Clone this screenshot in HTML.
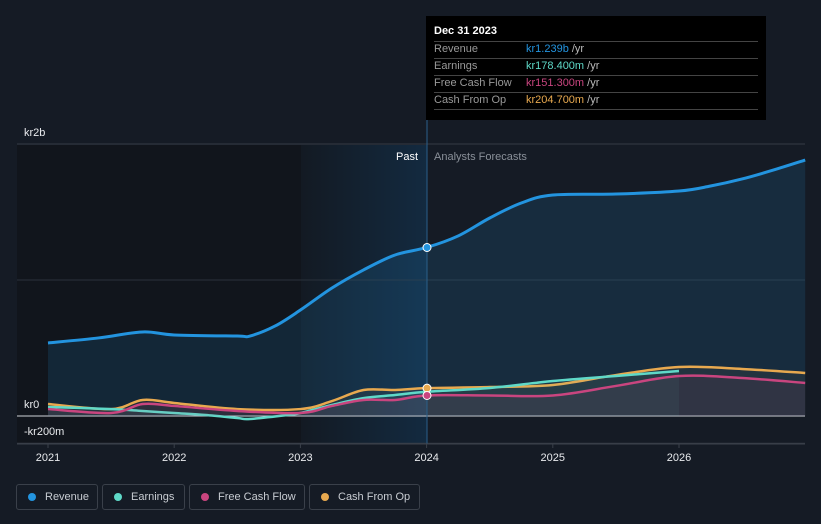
<!DOCTYPE html>
<html><head><meta charset="utf-8"><style>
body{margin:0;background:#151b25;font-family:"Liberation Sans",sans-serif;}
svg{display:block}
.leg{position:absolute;top:484px;height:26px;border:1px solid #3a404a;border-radius:3px;box-sizing:border-box;color:#c8ccd2;font-size:11px;line-height:24px;padding-left:28px;white-space:nowrap}
.leg i{position:absolute;left:11px;top:8px;width:8px;height:8px;border-radius:50%}
</style></head><body>
<div style="position:relative;width:821px;height:524px;overflow:hidden">
<svg id="c" width="821" height="524"></svg>
<div class="leg" style="left:16px;width:82px"><i style="background:#2394df"></i>Revenue</div>
<div class="leg" style="left:102px;width:83px"><i style="background:#5fd9c8"></i>Earnings</div>
<div class="leg" style="left:189px;width:116px"><i style="background:#c9457f"></i>Free Cash Flow</div>
<div class="leg" style="left:309px;width:111px"><i style="background:#e8a94f"></i>Cash From Op</div>
<div style="position:absolute;left:426px;top:16px;width:340px;height:104px;background:#000;color:#fff;font-size:11px">
<div style="position:absolute;left:8px;top:9px;font-weight:bold">Dec 31 2023</div>
<div style="position:absolute;left:8px;right:8px;top:25px;border-top:1px solid #444"></div>
<div style="position:absolute;left:8px;right:8px;top:42px;border-top:1px solid #444"></div>
<div style="position:absolute;left:8px;right:8px;top:59px;border-top:1px solid #444"></div>
<div style="position:absolute;left:8px;right:8px;top:76px;border-top:1px solid #444"></div>
<div style="position:absolute;left:8px;right:8px;top:93px;border-top:1px solid #444"></div>
<div style="position:absolute;left:8px;top:27px;color:#999">Revenue</div>
<div style="position:absolute;left:100px;top:27px;color:#bbb"><span style="color:#2394df">kr1.239b</span> /yr</div>
<div style="position:absolute;left:8px;top:44px;color:#999">Earnings</div>
<div style="position:absolute;left:100px;top:44px;color:#bbb"><span style="color:#5fd9c8">kr178.400m</span> /yr</div>
<div style="position:absolute;left:8px;top:61px;color:#999">Free Cash Flow</div>
<div style="position:absolute;left:100px;top:61px;color:#bbb"><span style="color:#c9457f">kr151.300m</span> /yr</div>
<div style="position:absolute;left:8px;top:78px;color:#999">Cash From Op</div>
<div style="position:absolute;left:100px;top:78px;color:#bbb"><span style="color:#e8a94f">kr204.700m</span> /yr</div>
</div>
</div>
<script>
const revYears=[2021,2021.4,2021.75,2022,2022.5,2022.6,2022.8,2023,2023.25,2023.5,2023.75,2024,2024.25,2024.5,2024.75,2025,2025.5,2026,2026.25,2026.5,2026.75,2027];
const revVals=[537,574,618,596,588,588,662,779,941,1074,1184,1239,1324,1456,1566,1625,1632,1654,1691,1743,1809,1882];
const earnYears=[2021,2021.5,2021.75,2022,2022.25,2022.5,2022.6,2022.9,2023,2023.25,2023.5,2023.75,2024,2024.5,2025,2025.5,2026];
const earnVals=[66,51,37,22,7,-15,-22,7,22,81,132,154,178,206,257,294,331];
const fcfYears=[2021,2021.5,2021.75,2022,2022.5,2023,2023.25,2023.5,2023.75,2024,2024.5,2025,2025.5,2026,2026.5,2027];
const fcfVals=[51,22,88,74,37,22,74,118,118,151,151,151,221,294,279,243];
const cfoYears=[2021,2021.5,2021.75,2022,2022.5,2023,2023.25,2023.5,2023.75,2024,2024.5,2025,2025.5,2026,2026.5,2027];
const cfoVals=[88,51,118,96,51,51,110,191,191,205,213,228,301,360,346,316];
const xTicks=[2021,2022,2023,2024,2025,2026];
const yTicks=[2000,0,-200];
const yLabels=["kr2b","kr0","-kr200m"];

const X=y=>48+(y-2021)*126.2;
const Y=v=>416-v*0.136;
const svg=document.getElementById('c');
const NS='http://www.w3.org/2000/svg';
function mk(t,a){const e=document.createElementNS(NS,t);for(const k in a)e.setAttribute(k,a[k]);svg.appendChild(e);return e;}
function path(xs,vs){const p=xs.map((x,i)=>[X(x),Y(vs[i])]);let d='M'+p[0][0]+','+p[0][1];
for(let i=0;i<p.length-1;i++){const a=p[i-1]||p[i],b=p[i],c=p[i+1],e=p[i+2]||c;
d+=`C${b[0]+(c[0]-a[0])/6},${b[1]+(c[1]-a[1])/6} ${c[0]-(e[0]-b[0])/6},${c[1]-(e[1]-b[1])/6} ${c[0]},${c[1]}`;}return d;}
const defs=mk('defs',{});
defs.innerHTML='<linearGradient id="pg" x1="0" x2="1"><stop offset="0" stop-color="#131a23"/><stop offset="1" stop-color="#132a40"/></linearGradient>';
let r=mk('rect',{x:17,y:145,width:284,height:299,fill:'#11151c'});
r=mk('rect',{x:301,y:145,width:126,height:299,fill:'url(#pg)'});
yTicks.forEach((t,i)=>{let l=mk('line',{x1:17,x2:805,y1:Y(t),y2:Y(t),stroke:t===0?'#d0d3d8':'#353b45','stroke-width':1});
let tx=mk('text',{x:24,y:Y(t)-8,fill:'#e8eaed','font-size':11});tx.textContent=yLabels[i];});
let mid=mk('line',{x1:17,x2:805,y1:Y(1000),y2:Y(1000),stroke:'#2a313b'});
function series(xs,vs,col,fillOp,name){
let a=mk('path',{d:path(xs,vs)+`L${X(xs[xs.length-1])},416L${X(xs[0])},416Z`,fill:col,'fill-opacity':fillOp});
let l=mk('path',{d:path(xs,vs),fill:'none',stroke:col,'stroke-width':name==='revenue'?3:2.5});}
series(revYears,revVals,'#2394df',0.14,'revenue');
series(cfoYears,cfoVals,'#e8a94f',0.06,'cash-from-op');
series(earnYears,earnVals,'#5fd9c8',0.06,'earnings');
series(fcfYears,fcfVals,'#c9457f',0.08,'free-cash-flow');
let v=mk('line',{x1:427,x2:427,y1:120,y2:444,stroke:'#2a5f8a'});
let ax=mk('line',{x1:17,x2:805,y1:444,y2:444,stroke:'#3a404a'});
xTicks.forEach(t=>{let tx=mk('text',{x:X(t),y:461,fill:'#e8eaed','font-size':11,'text-anchor':'middle'});tx.textContent=t;
let tk=mk('line',{x1:X(t),x2:X(t),y1:444,y2:448,stroke:'#3a404a'});});
let p=mk('text',{x:418,y:160,fill:'#fff','font-size':11,'text-anchor':'end'});p.textContent='Past';
p=mk('text',{x:434,y:160,fill:'#8a9099','font-size':11});p.textContent='Analysts Forecasts';
[[revVals[11],'#2394df'],[cfoVals[9],'#e8a94f'],[fcfVals[9],'#c9457f']].forEach(d=>{let c=mk('circle',{cx:427,cy:Y(d[0]),r:4,fill:d[1],stroke:'#fff','stroke-width':1});});
</script>
</body></html>
